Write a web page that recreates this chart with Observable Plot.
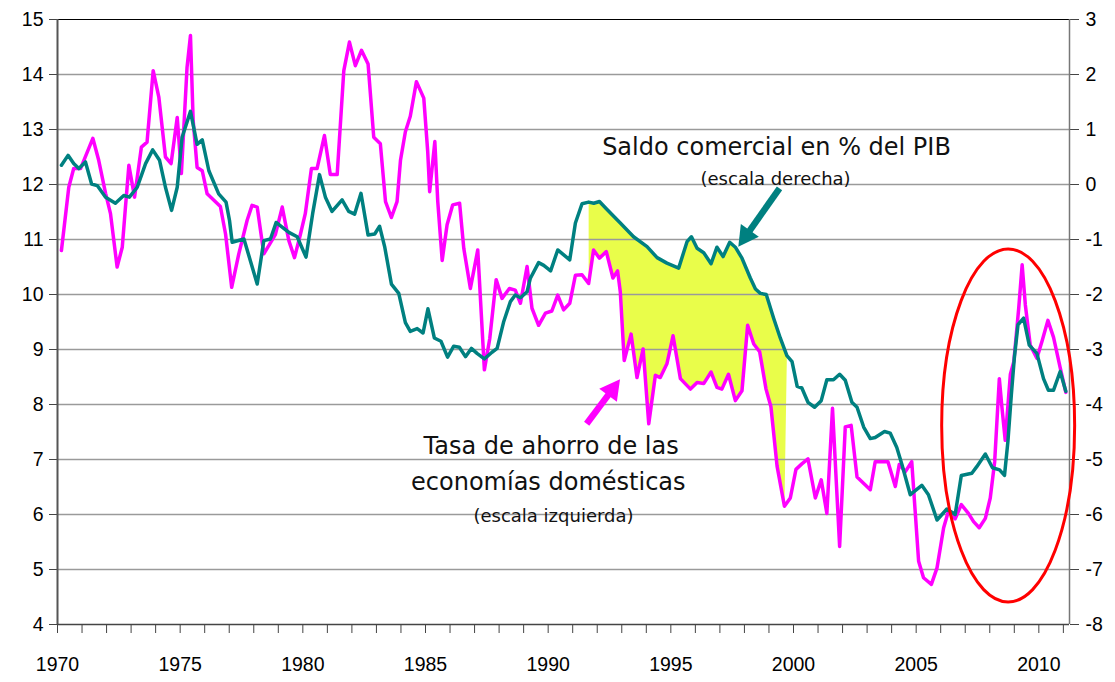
<!DOCTYPE html>
<html><head><meta charset="utf-8">
<script src="https://cdn.jsdelivr.net/npm/d3@7"></script>
<script src="https://cdn.jsdelivr.net/npm/@observablehq/plot@0.6"></script>
<style>body{margin:0;background:#fff} #chart svg{display:block}</style>
</head><body><div id="chart"></div>
<script>
// Household saving rate (left scale, %)
const savingsYears = [1970.16,1970.46,1970.66,1970.94,1971.44,1971.68,1971.96,1972.16,1972.43,1972.64,1972.77,1972.91,1973.14,1973.42,1973.65,1973.9,1974.13,1974.4,1974.63,1974.88,1975.05,1975.28,1975.42,1975.53,1975.69,1975.9,1976.1,1976.64,1976.85,1977.1,1977.39,1977.73,1977.93,1978.14,1978.41,1978.88,1979.16,1979.43,1979.66,1979.9,1980.1,1980.35,1980.58,1980.88,1981.12,1981.4,1981.67,1981.9,1982.14,1982.39,1982.66,1982.89,1983.16,1983.37,1983.61,1983.84,1983.98,1984.18,1984.38,1984.63,1984.93,1985.09,1985.17,1985.38,1985.5,1985.68,1985.88,1986.11,1986.39,1986.56,1986.83,1987.13,1987.4,1987.62,1987.88,1988.12,1988.42,1988.66,1988.87,1989.14,1989.34,1989.61,1989.89,1990.15,1990.39,1990.63,1990.88,1991.11,1991.38,1991.65,1991.85,1992.09,1992.37,1992.64,1992.83,1992.94,1993.1,1993.38,1993.62,1993.87,1994.1,1994.37,1994.57,1994.84,1995.09,1995.39,1995.8,1996.07,1996.34,1996.64,1996.88,1997.08,1997.35,1997.63,1997.9,1998.13,1998.38,1998.62,1998.88,1999.08,1999.33,1999.63,1999.87,2000.1,2000.34,2000.59,2000.89,2001.13,2001.36,2001.59,2001.88,2002.11,2002.35,2002.59,2003.13,2003.33,2003.85,2004.15,2004.31,2004.56,2004.82,2005.1,2005.3,2005.62,2005.85,2006.12,2006.32,2006.59,2006.84,2007.13,2007.34,2007.57,2007.82,2008.02,2008.2,2008.39,2008.5,2008.63,2008.84,2008.98,2009.18,2009.32,2009.45,2009.65,2009.92,2010.13,2010.37,2010.6,2010.87,2011.1];
const savingsRate = [10.8,11.95,12.29,12.29,12.84,12.44,11.84,11.47,10.5,10.86,11.59,12.35,11.77,12.68,12.77,14.07,13.59,12.5,12.38,13.22,12.2,14.13,14.71,13.16,12.31,12.25,11.83,11.6,11.1,10.13,10.74,11.35,11.62,11.59,10.74,11.09,11.59,10.98,10.67,11.09,11.47,12.29,12.29,12.89,12.18,12.18,14.07,14.59,14.16,14.44,14.19,12.86,12.74,11.69,11.4,11.69,12.44,12.96,13.24,13.87,13.57,12.6,11.87,12.78,11.69,10.62,11.27,11.63,11.66,10.84,10.11,10.81,8.63,9.2,10.27,9.93,10.11,10.08,9.84,10.51,9.75,9.44,9.66,9.7,9.99,9.72,9.84,10.35,10.36,10.2,10.81,10.66,10.78,10.3,10.43,10.05,8.8,9.28,8.49,9.01,7.65,8.53,8.49,8.74,9.25,8.47,8.28,8.4,8.38,8.59,8.31,8.28,8.55,8.07,8.25,9.44,9.1,8.96,8.28,7.96,6.88,6.15,6.3,6.82,6.92,7.01,6.3,6.63,6.02,7.93,5.42,7.59,7.62,6.68,6.45,6.96,6.96,6.51,6.91,6.78,6.96,5.15,4.85,4.73,5.03,5.76,6.07,5.92,6.18,6.02,5.87,5.76,5.93,6.3,6.96,8.47,7.93,7.35,8.55,8.78,9.75,10.54,9.81,9.08,8.84,9.15,9.53,9.22,8.67,8.22];

// Trade balance, % of GDP (right scale)
const tradeYears = [1970.16,1970.43,1970.66,1970.87,1971.14,1971.39,1971.62,1971.96,1972.36,1972.7,1972.93,1973.25,1973.59,1973.88,1974.16,1974.4,1974.65,1974.88,1975.08,1975.42,1975.69,1975.9,1976.17,1976.57,1976.87,1977.01,1977.12,1977.6,1978.14,1978.41,1978.68,1978.91,1979.43,1979.77,1980.13,1980.4,1980.68,1980.92,1981.19,1981.6,1981.87,1982.11,1982.37,1982.66,1982.93,1983.13,1983.34,1983.61,1983.91,1984.18,1984.38,1984.66,1984.9,1985.1,1985.36,1985.63,1985.9,1986.15,1986.38,1986.63,1986.87,1987.1,1987.4,1987.71,1987.92,1988.19,1988.46,1988.66,1988.87,1989.14,1989.27,1989.61,1989.82,1990.1,1990.39,1990.88,1991.11,1991.38,1991.65,1991.86,1992.09,1992.37,1992.94,1993.48,1994.03,1994.44,1994.84,1995.32,1995.66,1995.84,1996.07,1996.34,1996.64,1996.88,1997.13,1997.4,1997.63,1997.9,1998.24,1998.45,1998.65,1998.89,1999.19,1999.46,1999.73,1999.94,2000.15,2000.34,2000.59,2000.86,2001.13,2001.36,2001.63,2001.88,2002.11,2002.38,2002.59,2002.86,2003.13,2003.33,2003.71,2003.94,2004.21,2004.42,2004.76,2005.23,2005.5,2005.85,2006.25,2006.59,2006.84,2007.27,2007.47,2007.82,2008.11,2008.4,2008.6,2008.74,2008.88,2009.0,2009.15,2009.38,2009.61,2009.92,2010.19,2010.39,2010.6,2010.87,2011.1];
const tradeBalance = [0.35,0.53,0.38,0.29,0.41,0.01,-0.02,-0.23,-0.34,-0.2,-0.23,-0.05,0.38,0.63,0.44,-0.05,-0.47,-0.05,0.86,1.33,0.73,0.81,0.25,-0.17,-0.32,-0.65,-1.05,-0.99,-1.81,-1.02,-0.99,-0.69,-0.87,-0.95,-1.32,-0.53,0.18,-0.23,-0.49,-0.28,-0.49,-0.54,-0.16,-0.92,-0.9,-0.76,-1.14,-1.81,-1.98,-2.51,-2.67,-2.62,-2.7,-2.26,-2.79,-2.85,-3.14,-2.94,-2.96,-3.13,-2.98,-3.07,-3.17,-3.05,-2.98,-2.49,-2.13,-2.01,-2.06,-1.95,-1.71,-1.42,-1.47,-1.57,-1.19,-1.37,-0.7,-0.35,-0.32,-0.34,-0.31,-0.44,-0.7,-0.95,-1.13,-1.33,-1.43,-1.52,-1.04,-0.95,-1.16,-1.24,-1.44,-1.14,-1.31,-1.05,-1.14,-1.34,-1.7,-1.9,-1.98,-2.0,-2.43,-2.79,-3.11,-3.22,-3.67,-3.7,-3.96,-4.05,-3.93,-3.55,-3.55,-3.45,-3.56,-3.96,-4.05,-4.41,-4.62,-4.6,-4.49,-4.52,-4.78,-5.09,-5.64,-5.47,-5.64,-6.1,-5.9,-6.0,-5.29,-5.25,-5.13,-4.9,-5.15,-5.19,-5.29,-4.67,-3.82,-3.16,-2.55,-2.43,-2.92,-3.07,-3.53,-3.74,-3.74,-3.4,-3.76];

const leftTicks = [4,5,6,7,8,9,10,11,12,13,14,15];
const yearTicks = d3.range(1970, 2012);
const yearLabels = [1970,1975,1980,1985,1990,1995,2000,2005,2010];
const rightOffset = 12;            // right scale = left scale - 12
const shadeRange = [1991.6, 1999.75];

const savings = savingsYears.map((x, i) => ({x, y: savingsRate[i]}));
const trade = tradeYears.map((x, i) => ({x, y: tradeBalance[i] + rightOffset}));
const inShade = d => d.x >= shadeRange[0] && d.x <= shadeRange[1];
const shade = [...savings.filter(inShade), ...trade.filter(inShade).reverse()];

const MAG = "#ff00ff", TEAL = "#008080";
const labelFont = "DejaVu Sans, Verdana, sans-serif";

function arrow(s, x1, y1, x2, y2, color) {
  const ax = s.x(x1), ay = s.y(y1), bx = s.x(x2), by = s.y(y2);
  const dx = bx - ax, dy = by - ay, L = Math.hypot(dx, dy);
  const ux = dx / L, uy = dy / L, hl = 20, hw = 11;
  const cx = bx - ux * hl, cy = by - uy * hl;
  const g = d3.create("svg:g");
  g.append("line").attr("x1", ax).attr("y1", ay).attr("x2", cx + ux * 2).attr("y2", cy + uy * 2)
    .attr("stroke", color).attr("stroke-width", 6.5);
  g.append("polygon").attr("fill", color)
    .attr("points", [[bx, by], [cx - uy * hw, cy + ux * hw], [cx + uy * hw, cy - ux * hw]].map(p => p.join(",")).join(" "));
  return g;
}

function annotations(index, scales) {
  const s = scales;
  const g = d3.create("svg:g");
  const cx = s.x(2008.77), cy = s.y(7.61);
  g.append("ellipse").attr("cx", cx).attr("cy", cy)
    .attr("rx", s.x(2008.77 + 2.71) - cx).attr("ry", s.y(7.61 - 3.21) - cy)
    .attr("fill", "none").attr("stroke", "#ff0000").attr("stroke-width", 3);
  g.append(() => arrow(s, 1999.45, 11.92, 1997.77, 10.86, TEAL).node());
  g.append(() => arrow(s, 1991.59, 7.64, 1992.95, 8.45, MAG).node());
  return g.node();
}

const chart = Plot.plot({
  width: 1115, height: 682,
  marginLeft: 57, marginRight: 46, marginTop: 19, marginBottom: 58,
  x: {domain: [1970, 2011.25]},
  y: {domain: [4, 15]},
  style: {fontFamily: "Liberation Sans, Arial, sans-serif", background: "#fff", color: "#000"},
  marks: [
    Plot.line(shade, {x: "x", y: "y", fill: "#e9fd4a", stroke: "none"}),
    Plot.ruleY(d3.range(5, 15), {stroke: "#9a9a9a", strokeWidth: 1.5}),
    Plot.ruleY([15], {stroke: "#000", strokeWidth: 1.2}),
    Plot.line(savings, {x: "x", y: "y", stroke: MAG, strokeWidth: 3.5}),
    Plot.line(trade, {x: "x", y: "y", stroke: TEAL, strokeWidth: 3.5}),
    Plot.axisY(leftTicks, {anchor: "left", tickSize: 8, tickPadding: 6, fontSize: 19.5, stroke: "#444", label: null, tickFormat: d => String(d)}),
    Plot.axisY(leftTicks, {anchor: "right", tickSize: 9, tickPadding: 7, fontSize: 19.5, stroke: "#444", label: null, tickFormat: d => String(d - rightOffset)}),
    Plot.ruleX([1970], {stroke: "#555", strokeWidth: 2}),
    Plot.ruleX([2011.25], {stroke: "#777", strokeWidth: 1.5}),
    Plot.ruleY([4], {stroke: "#444", strokeWidth: 1.5}),
    Plot.axisX(yearTicks, {tickSize: 9, stroke: "#444", tickFormat: () => "", label: null}),
    Plot.axisX(yearLabels, {tickSize: 0, tickPadding: 33, fontSize: 19.5, label: null, tickFormat: d => String(d)}),
    Plot.text([{x: 1992.2, y: 12.67, t: "Saldo comercial en % del PIB"}], {x: "x", y: "y", text: "t", textAnchor: "start", fontSize: 24, fontFamily: labelFont, fill: "#111"}),
    Plot.text([{x: 1996.21, y: 12.09, t: "(escala derecha)"}], {x: "x", y: "y", text: "t", textAnchor: "start", fontSize: 18, fontFamily: labelFont, fill: "#111"}),
    Plot.text([{x: 1995.32, y: 7.24, t: "Tasa de ahorro de las"}, {x: 1995.6, y: 6.58, t: "economías domésticas"}], {x: "x", y: "y", text: "t", textAnchor: "end", fontSize: 24, fontFamily: labelFont, fill: "#111"}),
    Plot.text([{x: 1993.48, y: 5.96, t: "(escala izquierda)"}], {x: "x", y: "y", text: "t", textAnchor: "end", fontSize: 18, fontFamily: labelFont, fill: "#111"}),
    annotations
  ]
});
document.getElementById("chart").appendChild(chart);
</script>
</body></html>
